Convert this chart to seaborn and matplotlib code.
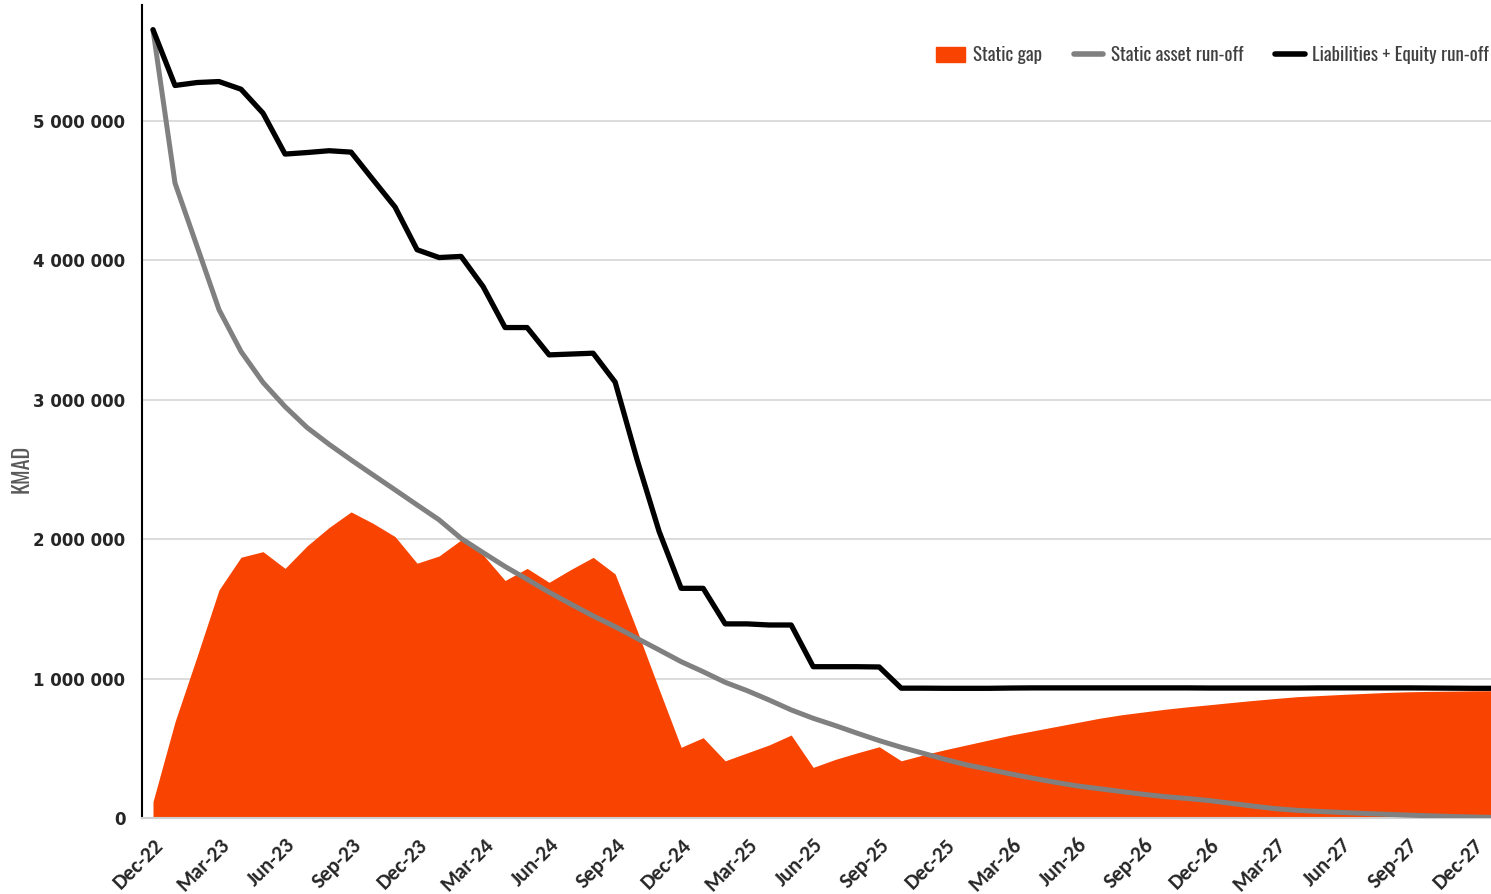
import matplotlib
matplotlib.use("Agg")
import matplotlib.pyplot as plt
from matplotlib.ticker import FuncFormatter
from matplotlib.patches import Patch
from matplotlib.lines import Line2D
import numpy as np
import pandas as pd
import seaborn as sns

# Monthly run-off, Dec-22 onwards (KMAD)
months = pd.date_range("2022-12-01", periods=62, freq="MS").strftime("%b-%y").tolist()

liabilities_runoff = [
    5653000, 5253000, 5274000, 5281000, 5226000, 5054000, 4761000, 4772000, 4785000, 4775000,
    4577000, 4381000, 4075000, 4019000, 4027000, 3811000, 3517000, 3517000, 3321000, 3327000,
    3333000, 3126000, 2568000, 2054000, 1647000, 1647000, 1392000, 1392000, 1384000, 1384000,
    1085000, 1085000, 1085000, 1083000, 931000, 931000, 930000, 930000, 930000, 932000,
    933000, 933000, 933000, 933000, 933000, 933000, 933000, 933000, 932000, 932000,
    932000, 932000, 932000, 933000, 933000, 933000, 933000, 933000, 932000, 931000,
    930000, 930000,
]

asset_runoff = [
    5653000, 4553000, 4100000, 3645000, 3345000, 3123000, 2950000, 2800000, 2680000, 2568000,
    2460000, 2353000, 2245000, 2138000, 2005000, 1903000, 1803000, 1712000, 1619000, 1533000,
    1449000, 1372000, 1288000, 1205000, 1121000, 1049000, 973000, 913000, 846000, 775000,
    715000, 663000, 608000, 555000, 507000, 464000, 420000, 380000, 348000, 315000,
    285000, 256000, 230000, 210000, 190000, 170000, 153000, 140000, 125000, 105000,
    85000, 67000, 55000, 47000, 40000, 33000, 27000, 21000, 16000, 11000,
    7000, 4000,
]

static_gap = [
    117000, 690000, 1157000, 1636000, 1870000, 1910000, 1790000, 1951000, 2083000, 2195000,
    2113000, 2018000, 1827000, 1879000, 1994000, 1887000, 1703000, 1790000, 1690000, 1783000,
    1869000, 1750000, 1344000, 922000, 507000, 576000, 410000, 467000, 524000, 595000,
    363000, 420000, 467000, 511000, 410000, 452000, 490000, 525000, 560000, 595000,
    625000, 655000, 685000, 715000, 740000, 760000, 780000, 797000, 812000, 828000,
    843000, 857000, 870000, 878000, 886000, 893000, 900000, 905000, 908000, 910000,
    912000, 913000,
]

df = pd.DataFrame({
    "month": months,
    "idx": np.arange(len(months)),
    "liab": liabilities_runoff,
    "asset": asset_runoff,
    "gap": static_gap,
})

sns.set_style("white")
plt.rcParams["font.family"] = ["DejaVu Sans"]

orange = "#F84400"
grey = "#808080"
narrow = ["Oswald", "Roboto Condensed", "DejaVu Sans"]

fig = plt.figure(figsize=(14.91, 8.94), dpi=100)
ax = fig.add_axes([142 / 1491, 76 / 894, 1349 / 1491, 813 / 894])

# Area + lines
ax.fill_between(df["idx"], 0, df["gap"], color=orange, linewidth=0, zorder=2)
sns.lineplot(data=df, x="idx", y="asset", color=grey, linewidth=3.6, ax=ax, zorder=3)
sns.lineplot(data=df, x="idx", y="liab", color="black", linewidth=3.8, ax=ax, zorder=4)

# Axes
ax.set_xlim(-0.5, 60.8)
ax.set_ylim(0, 5830000)
ax.set_yticks(np.arange(0, 5000001, 1000000))
ax.yaxis.set_major_formatter(FuncFormatter(lambda v, p: f"{int(v):,}".replace(",", " ")))
ax.grid(axis="y", color="#d9d9d9", linewidth=1.3, zorder=0)
ax.set_axisbelow(True)

tick_pos = df["idx"][::3][:21]
ax.set_xticks(tick_pos)
ax.set_xticklabels(df["month"][::3][:21], rotation=45, ha="right", rotation_mode="anchor",
                   fontsize=15.5, fontweight="bold", family=["Carlito", "Lato", "DejaVu Sans"])
for lab in ax.get_yticklabels():
    lab.set_fontsize(12)
    lab.set_fontweight("bold")
    lab.set_family(["Verdana", "DejaVu Sans"])
ax.tick_params(axis="y", length=0, pad=12)
ax.tick_params(axis="x", length=0, pad=12)

ax.set_xlabel("")
ax.set_ylabel("KMAD", fontsize=16, color="#595959", family=narrow, fontweight="light")
ax.yaxis.set_label_coords(-0.081, 0.43)

for s in ["top", "right"]:
    ax.spines[s].set_visible(False)
ax.spines["left"].set_color("black")
ax.spines["left"].set_linewidth(1.5)
ax.spines["bottom"].set_color("#d0d0d0")
ax.spines["bottom"].set_linewidth(1.5)

handles = [
    Patch(facecolor=orange, edgecolor=orange, label="Static gap"),
    Line2D([0], [0], color=grey, linewidth=4, label="Static asset run-off"),
    Line2D([0], [0], color="black", linewidth=4, label="Liabilities + Equity run-off"),
]
ax.legend(handles=handles, loc="upper right", bbox_to_anchor=(1.011, 0.971), ncol=3,
          frameon=False, handlelength=1.55, handleheight=0.85, columnspacing=1.7,
          handletextpad=0.4, prop={"family": narrow, "size": 13.6, "weight": "light"})
for t in ax.get_legend().get_texts():
    t.set_color("#404040")

fig.savefig("out.png", dpi=100)
